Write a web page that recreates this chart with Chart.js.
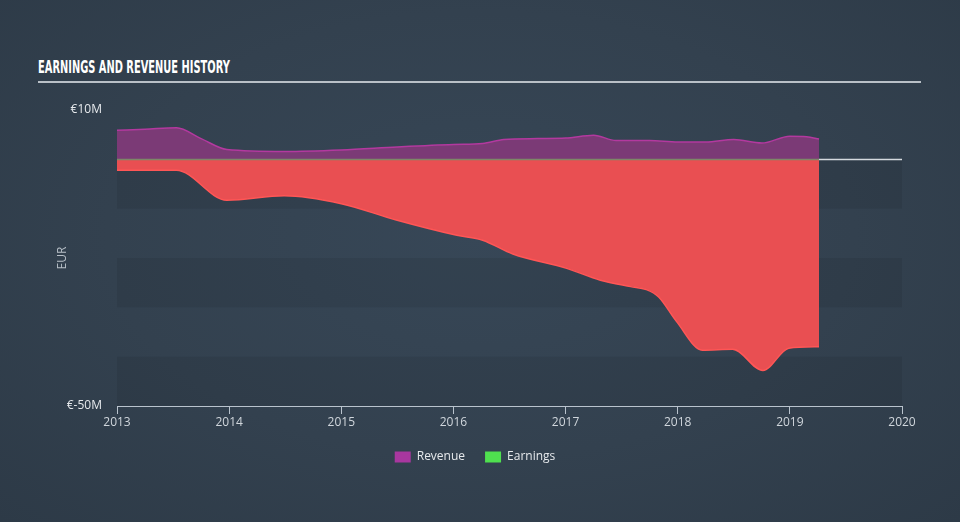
<!DOCTYPE html>
<html>
<head>
<meta charset="utf-8">
<script src="https://cdn.jsdelivr.net/npm/chart.js@4"></script>
<style>
  html, body { margin: 0; padding: 0; }
  body {
    width: 960px; height: 522px; overflow: hidden; position: relative;
    background: radial-gradient(ellipse at 50% 45%, #374757 0%, #33414f 55%, #2d3a47 100%);
  }
  #title {
    position: absolute; left: 38px; top: 56px; white-space: nowrap;
    font-family: "Liberation Sans Narrow", "DejaVu Sans Condensed", "Roboto", sans-serif;
    font-stretch: condensed; font-weight: bold; font-size: 18px;
    color: #ffffff; transform-origin: 0 0;
  }
  #rule { position: absolute; left: 38px; top: 81px; width: 883px; height: 2px; background: #b9c0c7; }
  canvas { position: absolute; left: 0; top: 0; }
</style>
</head>
<body>
<div id="title">EARNINGS AND REVENUE HISTORY</div>
<div id="rule"></div>
<canvas id="chart" width="960" height="522"></canvas>
<script>
// values in € millions, x as decimal years
const revenueYears = [2013.0, 2013.25, 2013.53, 2013.75, 2013.98, 2014.5, 2015.0, 2015.5, 2016.0, 2016.26, 2016.45, 2016.75, 2017.0, 2017.25, 2017.45, 2017.75, 2018.0, 2018.25, 2018.5, 2018.75, 2019.0, 2019.15, 2019.26];
const revenueValues = [5.9, 6.1, 6.4, 4.2, 2.0, 1.6, 1.9, 2.5, 3.0, 3.2, 4.0, 4.2, 4.3, 4.9, 3.8, 3.8, 3.5, 3.5, 4.0, 3.3, 4.7, 4.6, 4.1];

const earningsYears = [2013.0, 2013.53, 2013.98, 2014.49, 2015.0, 2015.49, 2016.03, 2016.26, 2016.53, 2017.01, 2017.31, 2017.58, 2017.72, 2017.83, 2017.99, 2018.22, 2018.49, 2018.76, 2018.99, 2019.26];
const earningsValues = [-2.2, -2.2, -8.3, -7.4, -9.0, -12.3, -15.4, -16.4, -19.2, -22.1, -24.5, -25.8, -26.4, -27.9, -32.9, -38.7, -38.5, -42.8, -38.3, -38.0];

const yTickValues = [10, -50];
const yTickLabels = ['€10M', '€-50M'];
const xTickYears = [2013, 2014, 2015, 2016, 2017, 2018, 2019, 2020];

const toPoints = (xs, ys) => xs.map((x, i) => ({ x: x, y: ys[i] }));

// squeeze the heading into the narrow width of the original
const title = document.getElementById('title');
title.style.transform = 'scaleX(' + (192 / title.offsetWidth) + ')';

// alternating darker bands and the zero line
const bandsPlugin = {
  id: 'bands',
  afterLayout(chart) {
    // legend sits a little right of centre in the original
    chart.legend.left += 24;
    chart.legend.right += 24;
  },
  beforeDatasetsDraw(chart) {
    const { ctx, chartArea, scales } = chart;
    const y = scales.y;
    ctx.save();
    ctx.fillStyle = 'rgba(0, 0, 0, 0.07)';
    for (let v = 0; v > -50; v -= 20) {
      const top = y.getPixelForValue(v);
      const bottom = y.getPixelForValue(v - 10);
      ctx.fillRect(chartArea.left, top, chartArea.right - chartArea.left, bottom - top);
    }
    ctx.restore();
  },
  afterDatasetsDraw(chart) {
    const { ctx, chartArea, scales } = chart;
    const y0 = Math.round(scales.y.getPixelForValue(0)) + 0.5;
    const xEnd = scales.x.getPixelForValue(revenueYears[revenueYears.length - 1]);
    ctx.save();
    ctx.lineWidth = 1.5;
    ctx.strokeStyle = '#7d8768';
    ctx.beginPath();
    ctx.moveTo(chartArea.left, y0);
    ctx.lineTo(xEnd, y0);
    ctx.stroke();
    ctx.strokeStyle = '#d5dadf';
    ctx.beginPath();
    ctx.moveTo(xEnd, y0);
    ctx.lineTo(chartArea.right, y0);
    ctx.stroke();
    ctx.restore();
  }
};

const ctx = document.getElementById('chart').getContext('2d');
new Chart(ctx, {
  type: 'line',
  data: {
    datasets: [
      {
        label: 'Revenue',
        data: toPoints(revenueYears, revenueValues),
        fill: 'origin',
        backgroundColor: '#7b3a76',
        borderColor: '#b3399f',
        borderWidth: 1.5,
        pointRadius: 0,
        cubicInterpolationMode: 'monotone'
      },
      {
        label: 'Earnings',
        data: toPoints(earningsYears, earningsValues),
        fill: 'origin',
        backgroundColor: '#e94f52',
        borderColor: '#ff5656',
        borderWidth: 1.5,
        pointRadius: 0,
        cubicInterpolationMode: 'monotone'
      }
    ]
  },
  options: {
    responsive: false,
    animation: false,
    layout: { padding: { left: 0, right: 58, top: 110, bottom: 49 } },
    scales: {
      x: {
        type: 'linear',
        min: 2013,
        max: 2020,
        afterBuildTicks: scale => { scale.ticks = xTickYears.map(v => ({ value: v })); },
        afterFit: scale => { scale.height = 25; },
        ticks: {
          color: '#d0d6dc',
          font: { family: 'Open Sans', size: 12 },
          padding: 1,
          callback: v => String(v),
          maxRotation: 0
        },
        grid: {
          drawOnChartArea: false,
          drawTicks: true,
          tickLength: 8,
          color: '#b9c3cd'
        },
        border: { display: true, color: '#b9c3cd', width: 1 }
      },
      y: {
        min: -50,
        max: 10,
        afterBuildTicks: scale => { scale.ticks = yTickValues.map(v => ({ value: v })); },
        afterFit: scale => { scale.width = 117; },
        ticks: {
          color: '#e6e9ec',
          font: { family: 'Open Sans', size: 12 },
          padding: 15,
          callback: v => yTickLabels[yTickValues.indexOf(v)]
        },
        grid: { display: false, drawTicks: false },
        border: { display: false },
        title: {
          display: true,
          text: 'EUR',
          color: '#b7bfc7',
          font: { family: 'Open Sans', size: 12 },
          padding: { top: 55, bottom: 0 }
        }
      }
    },
    plugins: {
      legend: {
        position: 'bottom',
        labels: {
          color: '#e6e9ec',
          font: { family: 'Open Sans', size: 12 },
          boxWidth: 16,
          boxHeight: 11,
          padding: 20,
          generateLabels: () => [
            { text: 'Revenue', fillStyle: '#a8379f', strokeStyle: '#a8379f', lineWidth: 0, fontColor: '#e6e9ec', datasetIndex: 0 },
            { text: 'Earnings', fillStyle: '#4fe04f', strokeStyle: '#4fe04f', lineWidth: 0, fontColor: '#e6e9ec', datasetIndex: 1 }
          ]
        }
      },
      tooltip: { enabled: false }
    }
  },
  plugins: [bandsPlugin]
});
</script>
</body>
</html>
